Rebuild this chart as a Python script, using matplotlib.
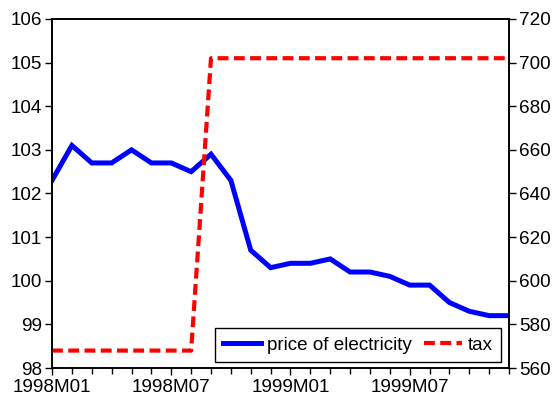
import matplotlib.pyplot as plt
import matplotlib.ticker as mticker
import numpy as np

plt.rcParams['font.family'] = ['Liberation Sans', 'DejaVu Sans']

# monthly data 1998M01 - 1999M12
months = [f"{y}M{m:02d}" for y in (1998, 1999) for m in range(1, 13)]
price = [102.3, 103.1, 102.7, 102.7, 103.0, 102.7, 102.7, 102.5, 102.9, 102.3, 100.7, 100.3,
         100.4, 100.4, 100.5, 100.2, 100.2, 100.1, 99.9, 99.9, 99.5, 99.3, 99.2, 99.2]
tax = [568, 568, 568, 568, 568, 568, 568, 568, 702, 702, 702, 702,
       702, 702, 702, 702, 702, 702, 702, 702, 702, 702, 702, 702]
tick_labels = ["1998M01", "1998M07", "1999M01", "1999M07"]

x = np.arange(len(months))

fig = plt.figure(figsize=(5.57, 4.03), dpi=100)
ax = fig.add_axes([0.0934, 0.0868, 0.8206, 0.8662])
ax2 = ax.twinx()

l1, = ax.plot(x, price, color='#0000ff', lw=3.6, solid_joinstyle='miter', label='price of electricity')
l2, = ax2.plot(x, tax, color='#ff0000', lw=3.0, ls=(0, (2.6, 1.3)), label='tax')

ax.set_xlim(0, len(months) - 1)
ax.set_ylim(98, 106)
ax2.set_ylim(560, 720)
ax.yaxis.set_major_locator(mticker.MultipleLocator(1))
ax2.yaxis.set_major_locator(mticker.MultipleLocator(20))

ax.set_xticks([months.index(t) for t in tick_labels])
ax.set_xticklabels(tick_labels)
ax.set_xticks(x, minor=True)

for a in (ax, ax2):
    for s in a.spines.values():
        s.set_linewidth(1.2)
    a.tick_params(labelsize=13.6, width=1, length=5, direction='out', colors='black')
ax.tick_params(axis='x', which='minor', length=4, width=1)
ax.tick_params(axis='x', which='major', length=5, pad=3)
ax2.tick_params(axis='y', pad=2)
ax.tick_params(axis='y', pad=2)

leg = ax.legend(handles=[l1, l2], loc='lower right', bbox_to_anchor=(0.9825, 0.0172),
                ncol=2, fontsize=13.6, frameon=True, fancybox=False, edgecolor='black',
                framealpha=1, handlelength=2.0, handletextpad=0.3, columnspacing=0.65,
                borderpad=0.45, borderaxespad=0)
leg.get_frame().set_linewidth(1.0)

fig.savefig('out.png', dpi=100)
